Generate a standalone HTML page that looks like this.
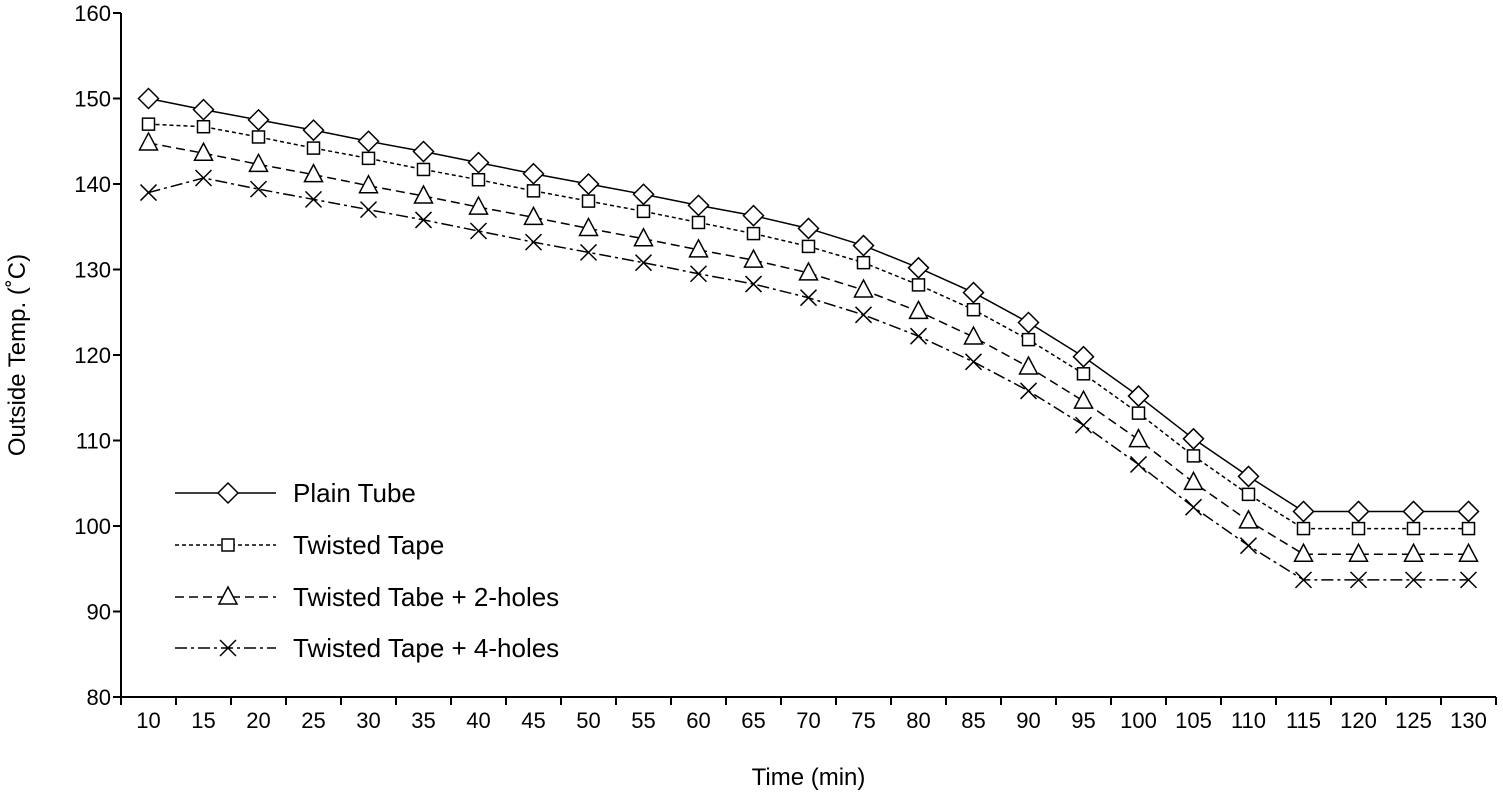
<!DOCTYPE html>
<html><head><meta charset="utf-8"><style>
body{margin:0;background:#fff}
svg{display:block;font-family:"Liberation Sans",Arial,sans-serif}
</style></head><body>
<svg id="chart" width="1503" height="800"></svg>
<script>
const categories=[10,15,20,25,30,35,40,45,50,55,60,65,70,75,80,85,90,95,100,105,110,115,120,125,130];
const plainTube=[150,148.7,147.5,146.3,145,143.8,142.5,141.2,140,138.8,137.5,136.3,134.8,132.8,130.2,127.3,123.8,119.8,115.2,110.2,105.8,101.7,101.7,101.7,101.7];
const twistedTape=[147,146.7,145.5,144.2,143,141.7,140.5,139.2,138,136.8,135.5,134.2,132.7,130.8,128.2,125.3,121.8,117.8,113.2,108.2,103.7,99.7,99.7,99.7,99.7];
const twoHoles=[144.8,143.6,142.3,141.1,139.8,138.6,137.3,136.1,134.8,133.6,132.3,131.1,129.6,127.6,125.1,122.1,118.6,114.6,110.1,105.1,100.6,96.7,96.7,96.7,96.7];
const fourHoles=[139,140.7,139.4,138.2,137,135.8,134.5,133.2,132,130.8,129.5,128.3,126.7,124.7,122.2,119.2,115.8,111.8,107.2,102.2,97.7,93.7,93.7,93.7,93.7];
const yTicks=[80,90,100,110,120,130,140,150,160];
const seriesNames=["Plain Tube","Twisted Tape","Twisted Tabe + 2-holes","Twisted Tape + 4-holes"];

const NS="http://www.w3.org/2000/svg";
const svg=document.getElementById('chart');
const X0=121,X1=1496,Y0=697,Y1=13,YMIN=80,YMAX=160;
const band=(X1-X0)/categories.length;
const xs=i=>X0+band*(i+0.5);
const ys=v=>Y0-(v-YMIN)/(YMAX-YMIN)*(Y0-Y1);
function el(t,a,p){const e=document.createElementNS(NS,t);for(const k in a)e.setAttribute(k,a[k]);(p||svg).appendChild(e);return e;}

let ax=el('line',{x1:X0,y1:Y1,x2:X0,y2:Y0,stroke:'#000','stroke-width':2});


ax=el('line',{x1:X0,y1:Y0,x2:X1,y2:Y0,stroke:'#000','stroke-width':2});


yTicks.forEach(v=>{
  el('line',{x1:X0-8,y1:ys(v),x2:X0,y2:ys(v),stroke:'#000','stroke-width':2});
  const t=el('text',{x:X0-10,y:ys(v)+8,'text-anchor':'end','font-size':22});t.textContent=v;
  
  
});
for(let i=0;i<=categories.length;i++){
  const x=X0+band*i;
  el('line',{x1:x,y1:Y0,x2:x,y2:Y0+8,stroke:'#000','stroke-width':2});
}
categories.forEach((c,i)=>{
  const t=el('text',{x:xs(i),y:Y0+31,'text-anchor':'middle','font-size':22});t.textContent=c;
  
  
});
let t=el('text',{x:(X0+X1)/2,y:785,'text-anchor':'middle','font-size':24});t.textContent='Time (min)';


t=el('text',{x:0,y:0,'text-anchor':'middle','font-size':24,transform:`translate(25,${(Y0+Y1)/2}) rotate(-90)`});t.textContent='Outside Temp. (˚C)';



function marker(kind,x,y,g){
  if(kind==0)el('polygon',{points:`${x},${y-10} ${x+10},${y} ${x},${y+10} ${x-10},${y}`,fill:'#fff',stroke:'#000','stroke-width':1.5},g);
  else if(kind==1)el('rect',{x:x-6,y:y-6,width:12,height:12,fill:'#fff',stroke:'#000','stroke-width':1.5},g);
  else if(kind==2)el('polygon',{points:`${x},${y-10} ${x+9},${y+7} ${x-9},${y+7}`,fill:'#fff',stroke:'#000','stroke-width':1.5},g);
  else{el('line',{x1:x-8,y1:y-8,x2:x+8,y2:y+8,stroke:'#000','stroke-width':1.5},g);el('line',{x1:x-8,y1:y+8,x2:x+8,y2:y-8,stroke:'#000','stroke-width':1.5},g);}
}
const dashes=['none','4,3','9,5','12,4,3,4'];
const allSeries=[plainTube,twistedTape,twoHoles,fourHoles];
const seriesIds=['plain-tube','twisted-tape','twisted-tape-2-holes','twisted-tape-4-holes'];
allSeries.forEach((s,k)=>{
  const g=el('g',{});
  
  
  el('polyline',{points:s.map((v,i)=>xs(i)+','+ys(v)).join(' '),fill:'none',stroke:'#000','stroke-width':1.5,'stroke-dasharray':dashes[k]},g);
  s.forEach((v,i)=>marker(k,xs(i),ys(v),g));
  const ly=[493,545,597,648][k];
  const lg=el('g',{});
  
  
  el('line',{x1:175,y1:ly,x2:276,y2:ly,stroke:'#000','stroke-width':1.5,'stroke-dasharray':dashes[k]},lg);
  marker(k,228,ly,lg);
  const lt=el('text',{x:293,y:ly+9,'font-size':26},lg);lt.textContent=seriesNames[k];
});
</script>
</body></html>
